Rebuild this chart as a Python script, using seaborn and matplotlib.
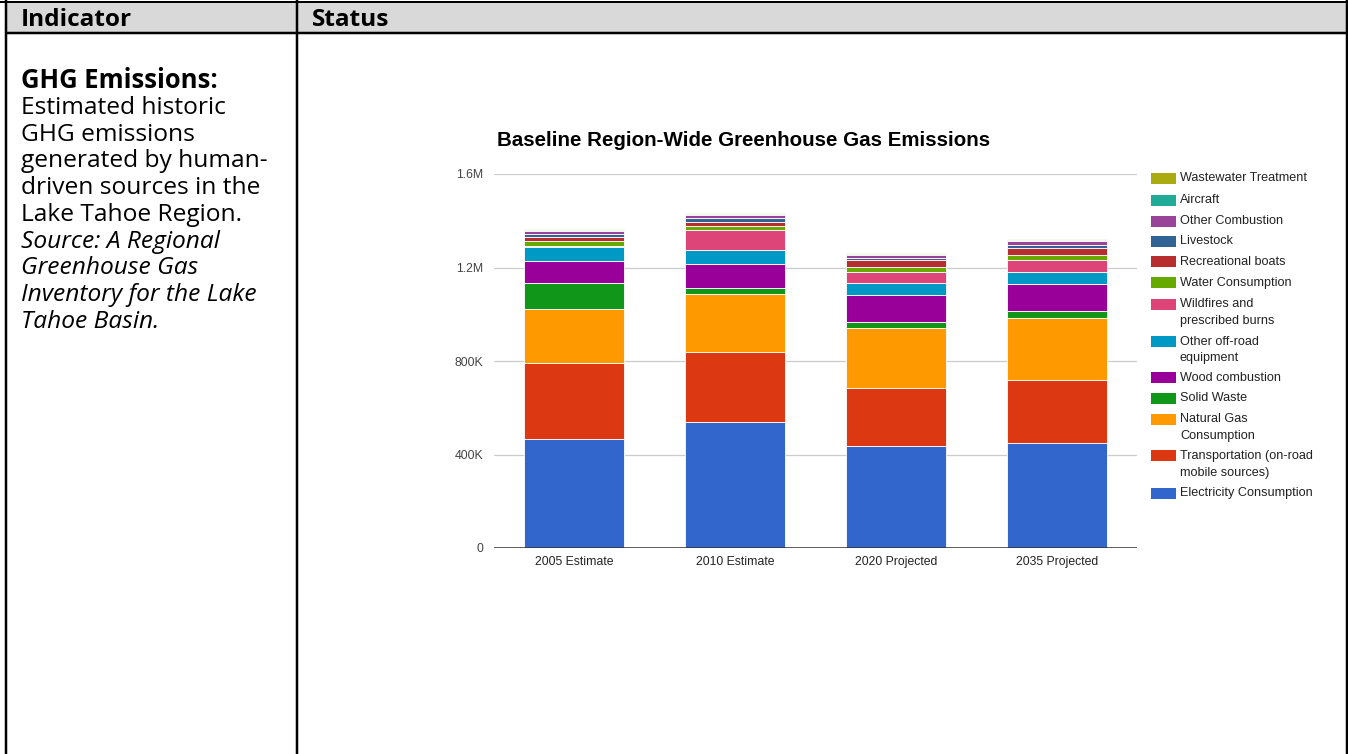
import numpy as np
import matplotlib
matplotlib.use("Agg")
import matplotlib.pyplot as plt
from matplotlib.patches import Rectangle
from matplotlib.lines import Line2D
import seaborn as sns

# ---------------- data ----------------
categories = ["2005 Estimate", "2010 Estimate", "2020 Projected", "2035 Projected"]

electricity = [466000, 539000, 436000, 449000]
transportation = [325000, 299000, 248000, 270000]
natural_gas = [231000, 249000, 257000, 265000]
solid_waste = [112000, 25000, 24000, 30000]
wood_combustion = [94000, 103000, 117000, 115000]
other_offroad = [60000, 60000, 52000, 52000]
wildfires = [3000, 85000, 47000, 51000]
water_consumption = [22000, 18000, 21000, 20000]
recreational_boats = [17000, 16000, 28000, 30000]
livestock = [15000, 16000, 10000, 16000]
other_combustion = [10000, 13000, 12000, 14000]
aircraft = [4000, 5000, 5000, 5000]
wastewater = [4000, 5000, 5000, 5000]

series_names = [
    "Electricity Consumption",
    "Transportation (on-road\nmobile sources)",
    "Natural Gas\nConsumption",
    "Solid Waste",
    "Wood combustion",
    "Other off-road\nequipment",
    "Wildfires and\nprescribed burns",
    "Water Consumption",
    "Recreational boats",
    "Livestock",
    "Other Combustion",
    "Aircraft",
    "Wastewater Treatment",
]
series_values = [electricity, transportation, natural_gas, solid_waste, wood_combustion,
                 other_offroad, wildfires, water_consumption, recreational_boats,
                 livestock, other_combustion, aircraft, wastewater]
series_colors = ["#3366cc", "#dc3912", "#ff9900", "#109618", "#990099", "#0099c6",
                 "#dd4477", "#66aa00", "#b82e2e", "#316395", "#994499", "#22aa99", "#aaaa11"]

yticks = [0, 400000, 800000, 1200000, 1600000]
ytick_labels = ["0", "400K", "800K", "1.2M", "1.6M"]

title = "Baseline Region-Wide Greenhouse Gas Emissions"
header_left = "Indicator"
header_right = "Status"
ind_title = "GHG Emissions:"
ind_lines = ["Estimated historic", "GHG emissions", "generated by human-",
             "driven sources in the", "Lake Tahoe Region."]
src_lines = ["Source: A Regional", "Greenhouse Gas", "Inventory for the Lake", "Tahoe Basin."]

# ---------------- layout ----------------
W, H = 1348, 754
sns.set_theme(style="white")
plt.rcParams["font.family"] = ["Liberation Sans", "DejaVu Sans"]
fig = plt.figure(figsize=(W / 100, H / 100), dpi=100)
fig.patch.set_facecolor("white")

def fx(x):
    return x / W

def fy(y):
    return 1 - y / H

renderer = fig.canvas.get_renderer()

def fit(t, target_w):
    bb = t.get_window_extent(renderer)
    t.set_fontsize(t.get_fontsize() * target_w / bb.width)
    return t.get_fontsize()

# table
fig.add_artist(Rectangle((fx(5), fy(33)), fx(1347) - fx(5), fy(2) - fy(33),
                         transform=fig.transFigure, facecolor="#d9d9d9", edgecolor="none", zorder=0))
for (x0, y0, x1, y1, lw) in [(0, 1.5, W, 1.5, 2.0), (5, 33, W, 33, 2.5),
                             (6, 0, 6, H, 2.5), (297, 0, 297, H, 2.5), (1347, 0, 1347, H, 2.5)]:
    fig.add_artist(Line2D([fx(x0), fx(x1)], [fy(y0), fy(y1)], transform=fig.transFigure,
                          color="black", lw=lw * 0.72, solid_capstyle="butt", zorder=1))

lfont = ["Open Sans", "DejaVu Sans"]
t = fig.text(fx(21), fy(26), header_left, family=lfont, weight="bold", fontsize=18,
             va="baseline", ha="left", color="black")
hs = fit(t, 111)
fig.text(fx(312), fy(26), header_right, family=lfont, weight="bold", fontsize=hs,
         va="baseline", ha="left", color="black")

t = fig.text(fx(21), fy(88), ind_title, family=lfont, weight="bold", fontsize=16,
             va="baseline", ha="left", color="black")
fit(t, 196)
t = fig.text(fx(21), fy(114 + 2 * 26.7), ind_lines[2], family=lfont, fontsize=16,
             va="baseline", ha="left", color="black")
bs = fit(t, 246)
t.remove()
for i, line in enumerate(ind_lines):
    fig.text(fx(21), fy(114 + i * 26.7), line, family=lfont, fontsize=bs,
             va="baseline", ha="left", color="black")
for j, line in enumerate(src_lines):
    i = j + len(ind_lines)
    fig.text(fx(21), fy(114 + i * 26.7), line, family=lfont, fontsize=bs, style="italic",
             va="baseline", ha="left", color="black")

# chart axes
ax = fig.add_axes([fx(494), fy(548), fx(1137) - fx(494), fy(174) - fy(548)])
ax.set_facecolor("white")

bottom = np.zeros(len(categories))
for name, vals, col in zip(series_names, series_values, series_colors):
    sns.barplot(x=categories, y=vals, order=categories, bottom=bottom, color=col,
                saturation=1, width=0.623, errorbar=None, ax=ax,
                edgecolor="white", linewidth=0.6, zorder=3)
    bottom = bottom + np.array(vals)

ax.set_xlim(-0.5, 3.5)
ax.set_ylim(0, 1600000)
ax.set_yticks(yticks)
ax.set_yticklabels(ytick_labels)
ax.yaxis.grid(True, color="#cccccc", lw=0.9, zorder=0)
ax.xaxis.grid(False)
for s in ax.spines.values():
    s.set_visible(False)
ax.axhline(0, color="#333333", lw=1.1, zorder=4)
ax.tick_params(axis="y", length=0, pad=8, labelsize=8.8, labelcolor="#444444")
ax.tick_params(axis="x", length=0, pad=6, labelsize=8.8, labelcolor="#222222")
ax.set_xlabel("")
ax.set_ylabel("")

t = fig.text(fx(497), fy(146), title, fontsize=14, weight="bold", color="#000000",
             va="baseline", ha="left")
fit(t, 494)

# legend (manual)
leg_y = [178.3, 200, 221, 241.3, 261.7, 282.7, 304, 341.7, 377.7, 398.3, 419, 456, 493.3]
names_top = list(reversed(series_names))
cols_top = list(reversed(series_colors))
for yc, name, col in zip(leg_y, names_top, cols_top):
    fig.add_artist(Rectangle((fx(1151), fy(yc + 5.5)), fx(1176) - fx(1151), (11) / H,
                             transform=fig.transFigure, facecolor=col, edgecolor="none"))
    for k, part in enumerate(name.split("\n")):
        fig.text(fx(1180), fy(yc + k * 16.7), part, fontsize=9.1, color="#222222",
                 va="center", ha="left")

fig.savefig("out.png", dpi=100, facecolor="white")
